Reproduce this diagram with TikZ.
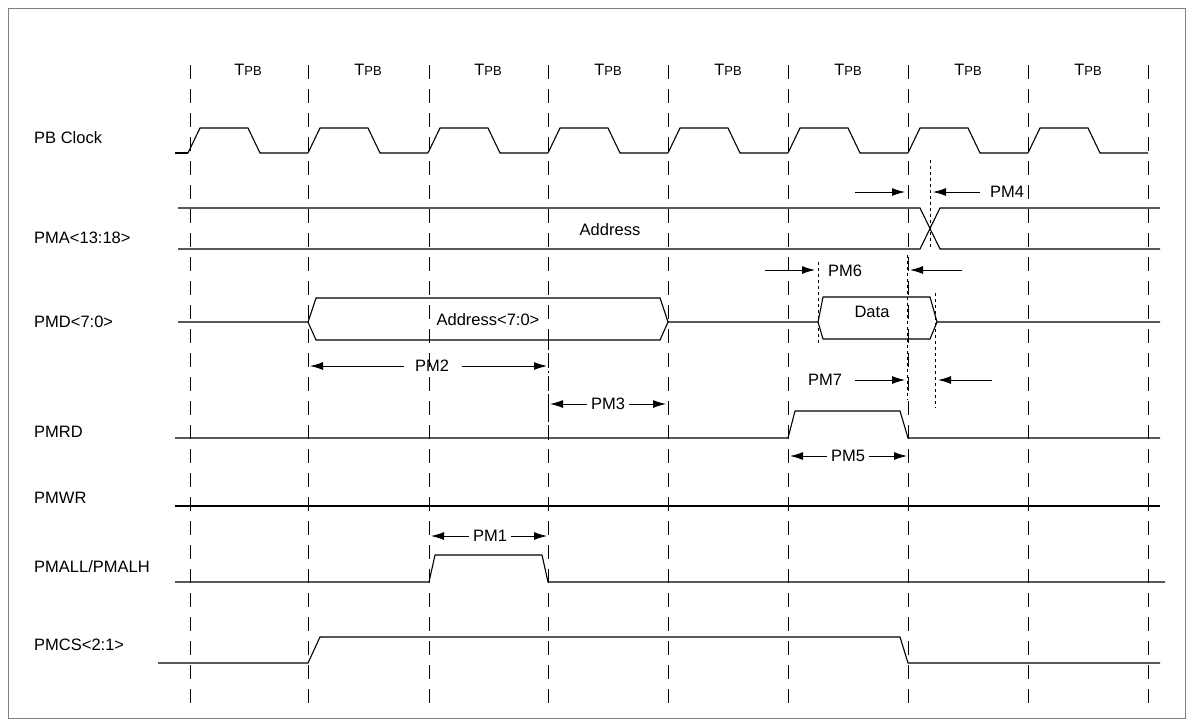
\documentclass[tikz,border=0pt]{standalone}
\usepackage{fontspec}
\setmainfont{Liberation Sans}
\usetikzlibrary{arrows.meta}
\tikzset{
  sig/.style={line width=1.1pt},
  grid/.style={line width=0.8pt, dash pattern=on 14pt off 10pt},
  dotl/.style={line width=0.9pt, dash pattern=on 3pt off 3pt},
  dim/.style={line width=1pt, -{Latex[length=13pt,width=8pt]}},
  lbl/.style={font=\fontsize{16.5}{18}\selectfont, inner sep=1pt},
}
\begin{document}
\begin{tikzpicture}[x=1pt,y=-1pt]
  \useasboundingbox (0,0) rectangle (1193,726);
  \draw[line width=0.8pt, gray] (8,8) rectangle (1185,718);

  % grid and period labels
  \foreach \x in {190,308,429,548,668,788,908,1028,1148}
    \draw[grid] (\x,65) -- (\x,705);
  \foreach \x in {248,368,488,608,728,848,968,1088}
    \node[lbl] at (\x,70) {T{\fontsize{13}{14}\selectfont PB}};

  % signal names
  \foreach \y/\t [count=\i] in {138/PB Clock,238/PMA<13:18>,322/PMD<7:0>,432/PMRD,498/PMWR,567/{PMALL/PMALH},645/PMCS<2:1>}
    \node[lbl, anchor=west] (name\i) at (33,\y) {\t};

  % PB clock
  \draw[sig] (175,153) -- (188,153);
  \foreach \x in {188,308,428,548,668,788,908,1028}
    \draw[sig] (\x,153) -- (\x+12,128) -- (\x+60,128) -- (\x+72,153) -- (\x+120,153);

  % PMA
  \draw[sig] (178,208) -- (920,208) -- (940,249) -- (1160,249);
  \draw[sig] (178,249) -- (920,249) -- (940,208) -- (1160,208);
  \node[lbl] (addr) at (610,230) {Address};

  % PMD
  \draw[sig] (178,322) -- (308,322) -- (316,298) -- (660,298) -- (668,322) -- (818,322)
    -- (823,297) -- (930,297) -- (937,322) -- (1160,322);
  \draw[sig] (308,322) -- (316,340) -- (660,340) -- (668,322);
  \draw[sig] (818,322) -- (823,339) -- (930,339) -- (937,322);
  \node[lbl] (abus) at (488,320) {Address<7:0>};
  \node[lbl] (dbus) at (872,312) {Data};

  % PMRD, PMWR, PMALL, PMCS
  \draw[sig] (175,438) -- (788,438) -- (795,411) -- (900,411) -- (908,438) -- (1160,438);
  \draw[sig] (175,506) -- (1160,506);
  \draw[sig] (175,582) -- (429,582) -- (435,555) -- (542,555) -- (548,582) -- (1165,582);
  \draw[sig] (158,663) -- (308,663) -- (320,637) -- (900,637) -- (908,663) -- (1160,663);

  % timing markers
  \draw[dotl] (930,160) -- (930,250);
  \draw[dotl] (818,262) -- (818,345);
  \draw[dotl] (907,255) -- (907,400);
  \draw[dotl] (935,293) -- (935,408);
  \draw[line width=0.9pt, dash pattern=on 10pt off 3pt on 2pt off 3pt] (548,340) -- (548,440);

  % PM4
  \coordinate (p4a) at (855,192); \coordinate (p4b) at (905,192);
  \coordinate (p4c) at (980,192); \coordinate (p4d) at (933,192);
  \draw[dim] (p4a) -- (p4b);
  \draw[dim] (p4c) -- (p4d);
  \node[lbl] (pm4) at (1007,192) {PM4};
  % PM6
  \coordinate (p6a) at (765,270); \coordinate (p6b) at (815,270);
  \coordinate (p6c) at (962,270); \coordinate (p6d) at (910,270);
  \draw[dim] (p6a) -- (p6b);
  \draw[dim] (p6c) -- (p6d);
  \node[lbl] (pm6) at (845,271) {PM6};
  % PM2
  \node[lbl] (pm2) at (432,366) {PM2};
  \coordinate (p2a) at (310,366); \coordinate (p2b) at (547,366);
  \draw[dim] (pm2.west) ++(-10,0) -- (p2a);
  \draw[dim] (pm2.east) ++(12,0) -- (p2b);
  % PM3
  \node[lbl] (pm3) at (608,404) {PM3};
  \coordinate (p3a) at (550,404); \coordinate (p3b) at (666,404);
  \draw[dim] (pm3.west) ++(-3,0) -- (p3a);
  \draw[dim] (pm3.east) ++(3,0) -- (p3b);
  % PM7
  \node[lbl] (pm7) at (825,380) {PM7};
  \coordinate (p7a) at (855,380); \coordinate (p7b) at (905,380);
  \coordinate (p7c) at (992,380); \coordinate (p7d) at (938,380);
  \draw[dim] (p7a) -- (p7b);
  \draw[dim] (p7c) -- (p7d);
  % PM5
  \node[lbl] (pm5) at (848,456) {PM5};
  \coordinate (p5a) at (790,456); \coordinate (p5b) at (907,456);
  \draw[dim] (pm5.west) ++(-3,0) -- (p5a);
  \draw[dim] (pm5.east) ++(3,0) -- (p5b);
  % PM1
  \node[lbl] (pm1) at (490,536) {PM1};
  \coordinate (p1a) at (431,536); \coordinate (p1b) at (547,536);
  \draw[dim] (pm1.west) ++(-3,0) -- (p1a);
  \draw[dim] (pm1.east) ++(3,0) -- (p1b);
\end{tikzpicture}
\end{document}
